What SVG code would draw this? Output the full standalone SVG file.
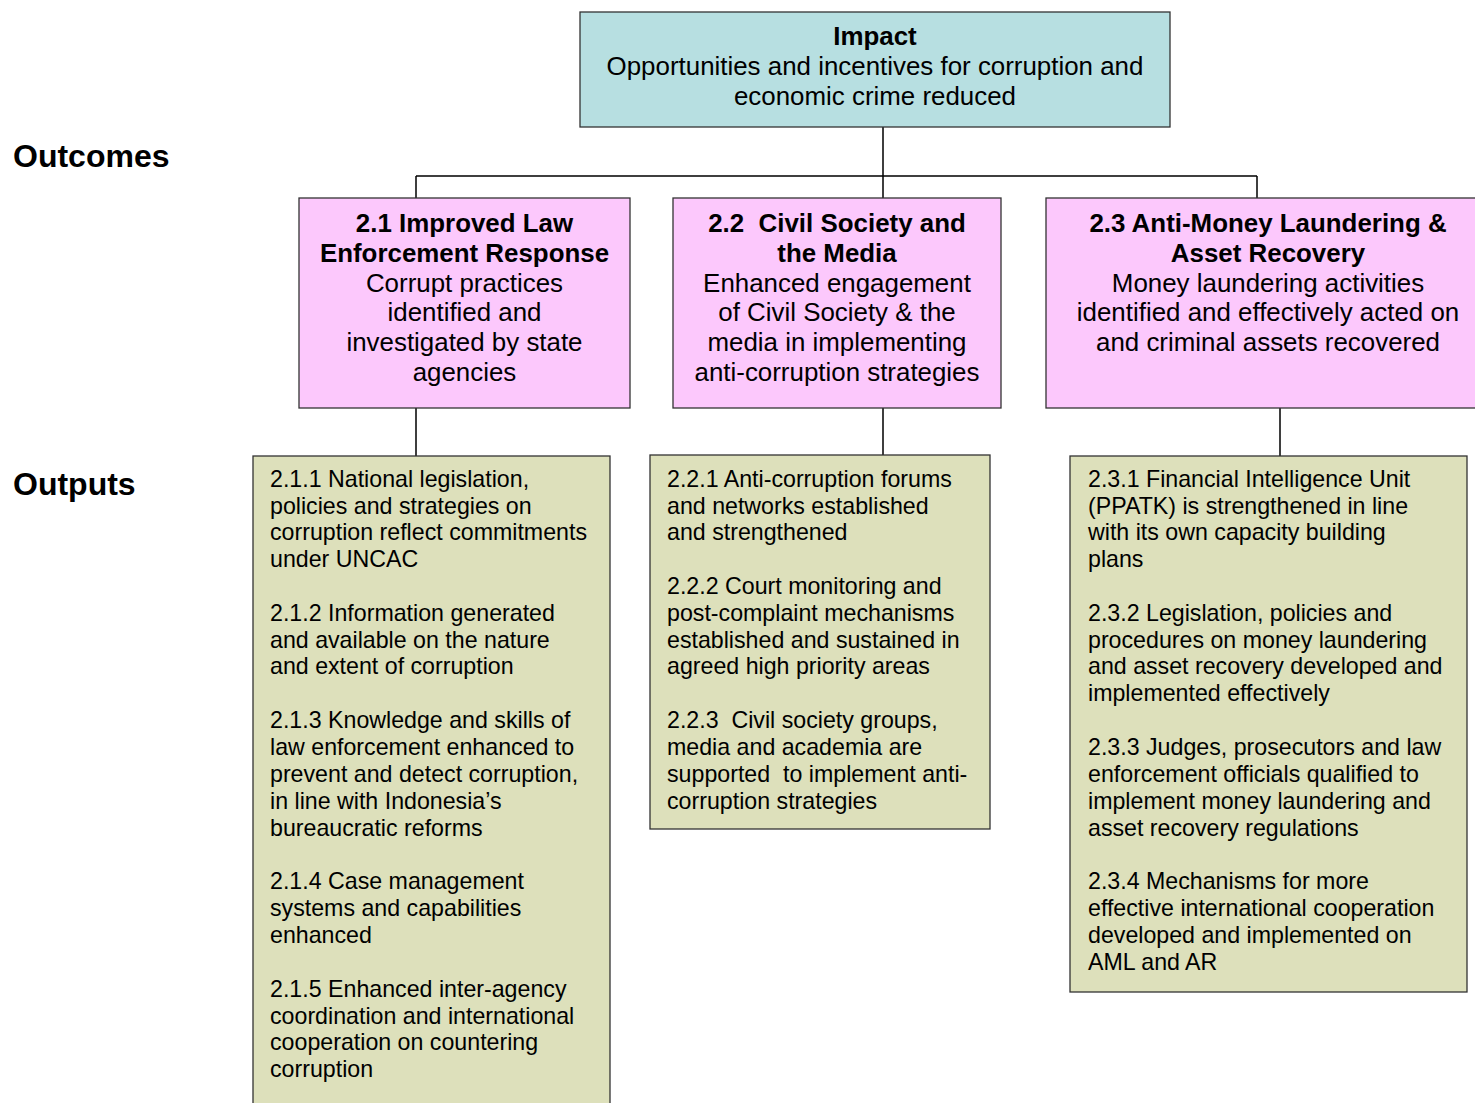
<svg xmlns="http://www.w3.org/2000/svg" width="1475" height="1103" viewBox="0 0 1475 1103">
<style>
.box{stroke:#333;stroke-width:1.3}
.imp{fill:#b7dfe1}
.oc{fill:#fcc8fc}
.op{fill:#dde0bb}
.t{font-family:"Liberation Sans",Arial,sans-serif;fill:#000}
.h{font-size:25.9px;text-anchor:middle}
.b{font-weight:bold}
.o{font-size:23.2px}
.lbl{font-size:32px;font-weight:bold}
.c{stroke:#000;stroke-width:1.5;fill:none}
</style>
<rect width="1475" height="1103" fill="#fff"/>
<g id="connectors">
<path class="c" d="M883 127V176M416 176H1257M416 176V198M883 176V198M1257 176V198"/>
<path class="c" d="M416 408V456M883 408V455M1280 408V456"/>
</g>
<g id="label-outcomes"><text class="t lbl" x="13" y="167">Outcomes</text></g>
<g id="label-outputs"><text class="t lbl" x="13" y="495">Outputs</text></g>
<g id="impact">
<rect class="box imp" x="580" y="12" width="590" height="115"/>
<text class="t h b" x="875" y="45">Impact</text>
<text class="t h" x="875" y="75">Opportunities and incentives for corruption and</text>
<text class="t h" x="875" y="105">economic crime reduced</text>
</g>
<g id="outcome-2-1">
<rect class="box oc" x="299" y="198" width="331" height="210"/>
<text class="t h b" x="464.5" y="232">2.1 Improved Law</text>
<text class="t h b" x="464.5" y="262">Enforcement Response</text>
<text class="t h" x="464.5" y="292">Corrupt practices</text>
<text class="t h" x="464.5" y="321">identified and</text>
<text class="t h" x="464.5" y="351">investigated by state</text>
<text class="t h" x="464.5" y="381">agencies</text>
</g>
<g id="outcome-2-2">
<rect class="box oc" x="673" y="198" width="328" height="210"/>
<text class="t h b" x="837" y="232" xml:space="preserve">2.2  Civil Society and</text>
<text class="t h b" x="837" y="262">the Media</text>
<text class="t h" x="837" y="292">Enhanced engagement</text>
<text class="t h" x="837" y="321">of Civil Society &amp; the</text>
<text class="t h" x="837" y="351">media in implementing</text>
<text class="t h" x="837" y="381">anti-corruption strategies</text>
</g>
<g id="outcome-2-3">
<rect class="box oc" x="1046" y="198" width="440" height="210"/>
<text class="t h b" x="1268" y="232">2.3 Anti-Money Laundering &amp;</text>
<text class="t h b" x="1268" y="262">Asset Recovery</text>
<text class="t h" x="1268" y="292">Money laundering activities</text>
<text class="t h" x="1268" y="321">identified and effectively acted on</text>
<text class="t h" x="1268" y="351">and criminal assets recovered</text>
</g>
<g id="outputs-2-1">
<rect class="box op" x="253" y="456" width="357" height="660"/>
<text class="t o" x="270" y="487">2.1.1 National legislation,</text>
<text class="t o" x="270" y="514">policies and strategies on</text>
<text class="t o" x="270" y="540">corruption reflect commitments</text>
<text class="t o" x="270" y="567">under UNCAC</text>
<text class="t o" x="270" y="621">2.1.2 Information generated</text>
<text class="t o" x="270" y="648">and available on the nature</text>
<text class="t o" x="270" y="674">and extent of corruption</text>
<text class="t o" x="270" y="728">2.1.3 Knowledge and skills of</text>
<text class="t o" x="270" y="755">law enforcement enhanced to</text>
<text class="t o" x="270" y="782">prevent and detect corruption,</text>
<text class="t o" x="270" y="809">in line with Indonesia’s</text>
<text class="t o" x="270" y="836">bureaucratic reforms</text>
<text class="t o" x="270" y="889">2.1.4 Case management</text>
<text class="t o" x="270" y="916">systems and capabilities</text>
<text class="t o" x="270" y="943">enhanced</text>
<text class="t o" x="270" y="997">2.1.5 Enhanced inter-agency</text>
<text class="t o" x="270" y="1024">coordination and international</text>
<text class="t o" x="270" y="1050">cooperation on countering</text>
<text class="t o" x="270" y="1077">corruption</text>
</g>
<g id="outputs-2-2">
<rect class="box op" x="650" y="455" width="340" height="374"/>
<text class="t o" x="667" y="487">2.2.1 Anti-corruption forums</text>
<text class="t o" x="667" y="514">and networks established</text>
<text class="t o" x="667" y="540">and strengthened</text>
<text class="t o" x="667" y="594">2.2.2 Court monitoring and</text>
<text class="t o" x="667" y="621">post-complaint mechanisms</text>
<text class="t o" x="667" y="648">established and sustained in</text>
<text class="t o" x="667" y="674">agreed high priority areas</text>
<text class="t o" x="667" y="728" xml:space="preserve">2.2.3  Civil society groups,</text>
<text class="t o" x="667" y="755">media and academia are</text>
<text class="t o" x="667" y="782" xml:space="preserve">supported  to implement anti-</text>
<text class="t o" x="667" y="809">corruption strategies</text>
</g>
<g id="outputs-2-3">
<rect class="box op" x="1070" y="456" width="397" height="536"/>
<text class="t o" x="1088" y="487">2.3.1 Financial Intelligence Unit</text>
<text class="t o" x="1088" y="514">(PPATK) is strengthened in line</text>
<text class="t o" x="1088" y="540">with its own capacity building</text>
<text class="t o" x="1088" y="567">plans</text>
<text class="t o" x="1088" y="621">2.3.2 Legislation, policies and</text>
<text class="t o" x="1088" y="648">procedures on money laundering</text>
<text class="t o" x="1088" y="674">and asset recovery developed and</text>
<text class="t o" x="1088" y="701">implemented effectively</text>
<text class="t o" x="1088" y="755">2.3.3 Judges, prosecutors and law</text>
<text class="t o" x="1088" y="782">enforcement officials qualified to</text>
<text class="t o" x="1088" y="809">implement money laundering and</text>
<text class="t o" x="1088" y="836">asset recovery regulations</text>
<text class="t o" x="1088" y="889">2.3.4 Mechanisms for more</text>
<text class="t o" x="1088" y="916">effective international cooperation</text>
<text class="t o" x="1088" y="943">developed and implemented on</text>
<text class="t o" x="1088" y="970">AML and AR</text>
</g>
</svg>
